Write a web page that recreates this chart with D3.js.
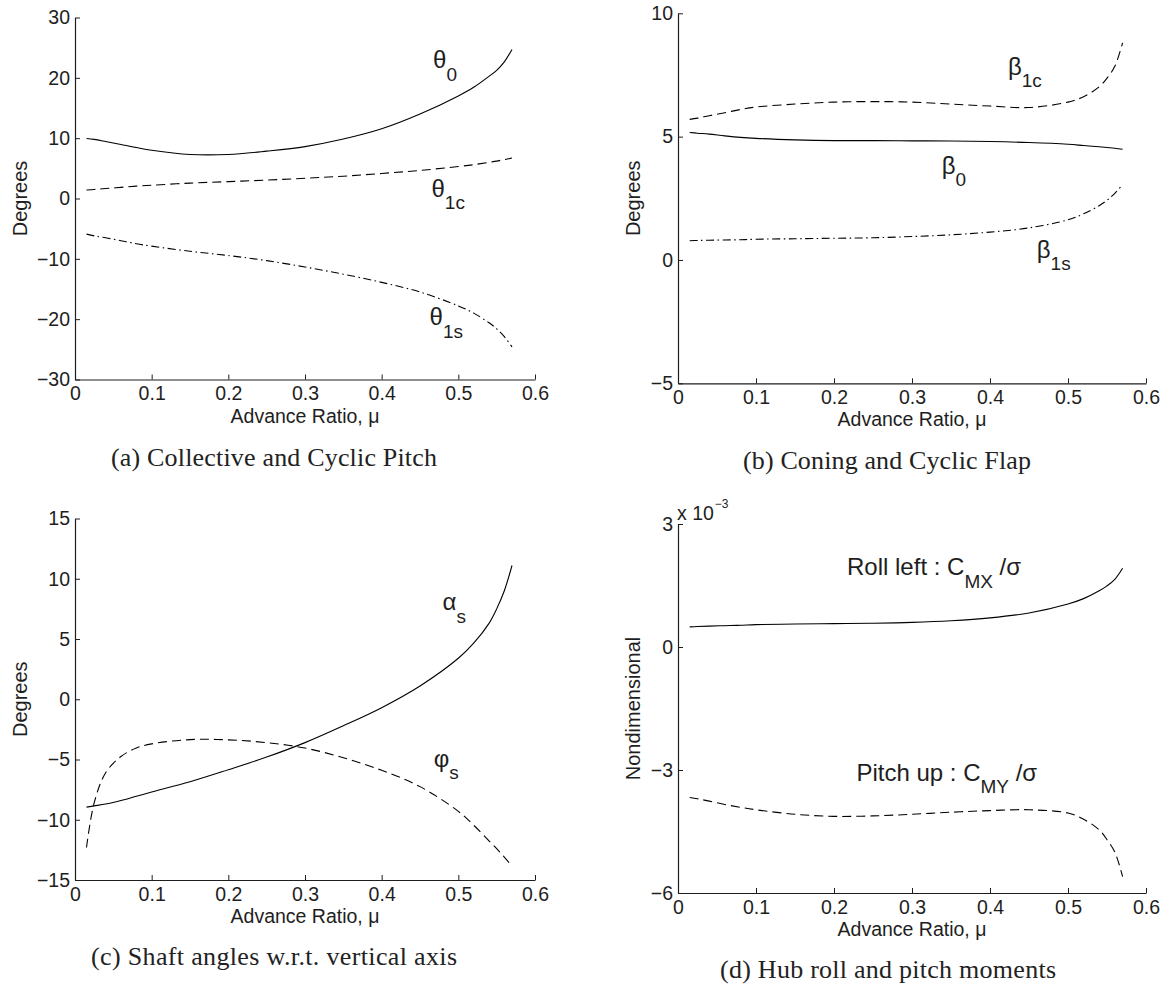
<!DOCTYPE html>
<html>
<head>
<meta charset="utf-8">
<script src="https://cdn.jsdelivr.net/npm/d3@7"></script>
<style>
  html, body { margin: 0; padding: 0; background: #fff; }
  svg { display: block; }
</style>
</head>
<body>
<svg id="chart" width="1172" height="987"></svg>
<script>
// ---------------- DATA ----------------
const mu = [0.015, 0.025, 0.04, 0.06, 0.08, 0.1, 0.15, 0.2, 0.25, 0.3, 0.35, 0.4, 0.45, 0.5, 0.52, 0.54, 0.55, 0.56, 0.57];

// (a) Collective and cyclic pitch, degrees
const theta0  = [9.95, 9.8, 9.45, 8.95, 8.45, 8.0, 7.3, 7.3, 7.85, 8.6, 9.85, 11.55, 14.0, 17.0, 18.43, 20.25, 21.25, 22.65, 24.7];
const theta1c = [1.4, 1.5, 1.65, 1.85, 2.05, 2.2, 2.55, 2.8, 3.05, 3.35, 3.7, 4.15, 4.65, 5.3, 5.6, 6.0, 6.2, 6.45, 6.7];
const theta1s = [-5.9, -6.2, -6.5, -7.0, -7.5, -7.9, -8.75, -9.45, -10.3, -11.35, -12.55, -13.9, -15.5, -17.8, -19.0, -20.6, -21.6, -22.9, -24.6];

// (b) Coning and cyclic flap, degrees
const beta1c = [5.7, 5.75, 5.85, 5.97, 6.1, 6.2, 6.32, 6.4, 6.42, 6.4, 6.32, 6.24, 6.18, 6.4, 6.62, 7.02, 7.37, 7.85, 8.8];
const beta0  = [5.17, 5.14, 5.1, 5.03, 4.97, 4.93, 4.87, 4.84, 4.84, 4.83, 4.82, 4.8, 4.76, 4.69, 4.64, 4.59, 4.56, 4.53, 4.49];
const beta1s = [0.78, 0.79, 0.8, 0.81, 0.82, 0.84, 0.86, 0.88, 0.9, 0.95, 1.02, 1.13, 1.3, 1.63, 1.87, 2.2, 2.42, 2.7, 3.05];

// (c) Shaft angles, degrees
const alphaS = [-8.95, -8.85, -8.7, -8.4, -8.05, -7.7, -6.85, -5.85, -4.8, -3.6, -2.2, -0.7, 1.1, 3.4, 4.65, 6.3, 7.5, 9.0, 11.1];
const phiS   = [-12.3, -8.6, -6.1, -4.75, -4.05, -3.7, -3.35, -3.37, -3.6, -4.05, -4.85, -5.9, -7.25, -9.3, -10.45, -11.75, -12.4, -13.1, -13.85];

// (d) Hub moments, nondimensional, in units of 1e-3
const cmxSigma = [0.49, 0.5, 0.51, 0.52, 0.53, 0.545, 0.56, 0.57, 0.58, 0.6, 0.64, 0.71, 0.83, 1.05, 1.18, 1.37, 1.49, 1.65, 1.92];
const cmySigma = [-3.67, -3.7, -3.76, -3.84, -3.91, -3.97, -4.08, -4.13, -4.12, -4.08, -4.03, -3.99, -3.97, -4.05, -4.2, -4.46, -4.7, -5.0, -5.6];

// tick values
const xTicks  = [0, 0.1, 0.2, 0.3, 0.4, 0.5, 0.6];
const yTicksA = [-30, -20, -10, 0, 10, 20, 30];
const yTicksB = [-5, 0, 5, 10];
const yTicksC = [-15, -10, -5, 0, 5, 10, 15];
const yTicksD = [-6, -3, 0, 3];

// curve annotations (data coordinates)
const labelsA = [
  { base: "θ", sub: "0",  mu: 0.467, v: 21.6 },
  { base: "θ", sub: "1c", mu: 0.465, v: 0.3 },
  { base: "θ", sub: "1s", mu: 0.4625, v: -21.0 }
];
const labelsB = [
  { base: "β", sub: "1c", mu: 0.423, v: 7.5 },
  { base: "β", sub: "0",  mu: 0.338, v: 3.5 },
  { base: "β", sub: "1s", mu: 0.46,  v: 0.08 }
];
const labelsC = [
  { base: "α", sub: "s", mu: 0.4795, v: 7.4 },
  { base: "φ", sub: "s", mu: 0.468,  v: -5.6 }
];
const labelsD = [
  { base: "Roll left : C", sub: "MX", tail: " /σ", mu: 0.2167, v: 1.75 },
  { base: "Pitch up : C",  sub: "MY", tail: " /σ", mu: 0.2288, v: -3.26 }
];

// ---------------- DRAW ----------------
const svg = d3.select("#chart");
const SANS = "'Liberation Sans', Arial, Helvetica, sans-serif";
const SERIF = "'Liberation Serif', 'Times New Roman', serif";
const dashes = { solid: null, dash: "9,5", dashdot: "8,3.5,1.5,3.5" };

const panels = [
  { left: 75, right: 535, top: 17.5, bottom: 379.5, yDomain: [-30, 30], yTicks: yTicksA,
    ylabel: "Degrees", ylabelX: 20,
    series: [{ v: theta0, s: "solid" }, { v: theta1c, s: "dash" }, { v: theta1s, s: "dashdot" }],
    labels: labelsA, caption: "(a) Collective and Cyclic Pitch", capX: 274, capY: 466, capLen: 326 },
  { left: 678, right: 1146, top: 13.3, bottom: 383.3, yDomain: [-5, 10], yTicks: yTicksB,
    ylabel: "Degrees", ylabelX: 633,
    series: [{ v: beta1c, s: "dash" }, { v: beta0, s: "solid" }, { v: beta1s, s: "dashdot" }],
    labels: labelsB, caption: "(b) Coning and Cyclic Flap", capX: 887, capY: 469, capLen: 288 },
  { left: 75, right: 535, top: 518.5, bottom: 880, yDomain: [-15, 15], yTicks: yTicksC,
    ylabel: "Degrees", ylabelX: 20,
    series: [{ v: alphaS, s: "solid" }, { v: phiS, s: "dash" }],
    labels: labelsC, caption: "(c) Shaft angles w.r.t. vertical axis", capX: 274, capY: 965, capLen: 366 },
  { left: 678, right: 1146, top: 524, bottom: 893, yDomain: [-6, 3], yTicks: yTicksD,
    ylabel: "Nondimensional", ylabelX: 633, exponent: true,
    series: [{ v: cmxSigma, s: "solid" }, { v: cmySigma, s: "dash" }],
    labels: labelsD, caption: "(d) Hub roll and pitch moments", capX: 888, capY: 977.5, capLen: 336 }
];

panels.forEach(p => {
  const x = d3.scaleLinear().domain([0, 0.6]).range([p.left, p.right]);
  const y = d3.scaleLinear().domain(p.yDomain).range([p.bottom, p.top]);
  const g = svg.append("g");

  // axes
  const xAxis = d3.axisBottom(x).tickValues(xTicks).tickSizeInner(-5).tickSizeOuter(0).tickPadding(7)
    .tickFormat(d => d === 0 ? "0" : d3.format(".1f")(d));
  const yAxis = d3.axisLeft(y).tickValues(p.yTicks).tickSizeInner(-5).tickSizeOuter(0).tickPadding(5)
    .tickFormat(d3.format("d"));

  const gx = g.append("g").attr("transform", `translate(0,${p.bottom})`).call(xAxis);
  const gy = g.append("g").attr("transform", `translate(${p.left},0)`).call(yAxis);
  [gx, gy].forEach(ax => {
    ax.select(".domain").attr("stroke", "#1e1e1e").attr("stroke-width", 1.2);
    ax.selectAll(".tick line").attr("stroke", "#1e1e1e").attr("stroke-width", 1);
    ax.selectAll(".tick text").attr("fill", "#1e1e1e").style("font-family", SANS).style("font-size", "19.5px");
  });

  // x label
  g.append("text")
    .attr("x", (p.left + p.right) / 2).attr("y", p.bottom + 43)
    .attr("text-anchor", "middle").attr("fill", "#1e1e1e")
    .style("font-family", SANS).style("font-size", "19.5px")
    .text("Advance Ratio, μ");

  // y label
  g.append("text")
    .attr("transform", `translate(${p.ylabelX},${(p.top + p.bottom) / 2}) rotate(-90)`)
    .attr("text-anchor", "middle").attr("dominant-baseline", "central").attr("fill", "#1e1e1e")
    .style("font-family", SANS).style("font-size", "20px")
    .text(p.ylabel);

  if (p.exponent) {
    const t = g.append("text").attr("x", p.left - 1).attr("y", p.top - 4)
      .attr("fill", "#1e1e1e").style("font-family", SANS).style("font-size", "19.5px");
    t.append("tspan").text("x 10");
    t.append("tspan").attr("dy", -12).attr("dx", 1).style("font-size", "12px").text("−3");
  }

  // series
  const line = d3.line().x((d, i) => x(mu[i])).y(d => y(d)).curve(d3.curveCatmullRom.alpha(0.5));
  p.series.forEach(s => {
    g.append("path").datum(s.v)
      .attr("d", line)
      .attr("fill", "none").attr("stroke", "#000").attr("stroke-width", 1.1)
      .attr("stroke-dasharray", dashes[s.s]);
  });

  // labels
  p.labels.forEach(l => {
    const t = g.append("text").attr("x", x(l.mu)).attr("y", y(l.v))
      .attr("fill", "#1e1e1e").style("font-family", SANS).style("font-size", "24px");
    t.append("tspan").text(l.base);
    t.append("tspan").attr("dy", 12.5).style("font-size", "19px").text(l.sub);
    if (l.tail) t.append("tspan").attr("dy", -12.5).style("font-size", "24px").text(l.tail);
  });

  // caption
  svg.append("text")
    .attr("x", p.capX).attr("y", p.capY).attr("text-anchor", "middle")
    .attr("textLength", p.capLen).attr("lengthAdjust", "spacing")
    .attr("fill", "#222").style("font-family", SERIF).style("font-size", "26px")
    .text(p.caption);
});
</script>
</body>
</html>
